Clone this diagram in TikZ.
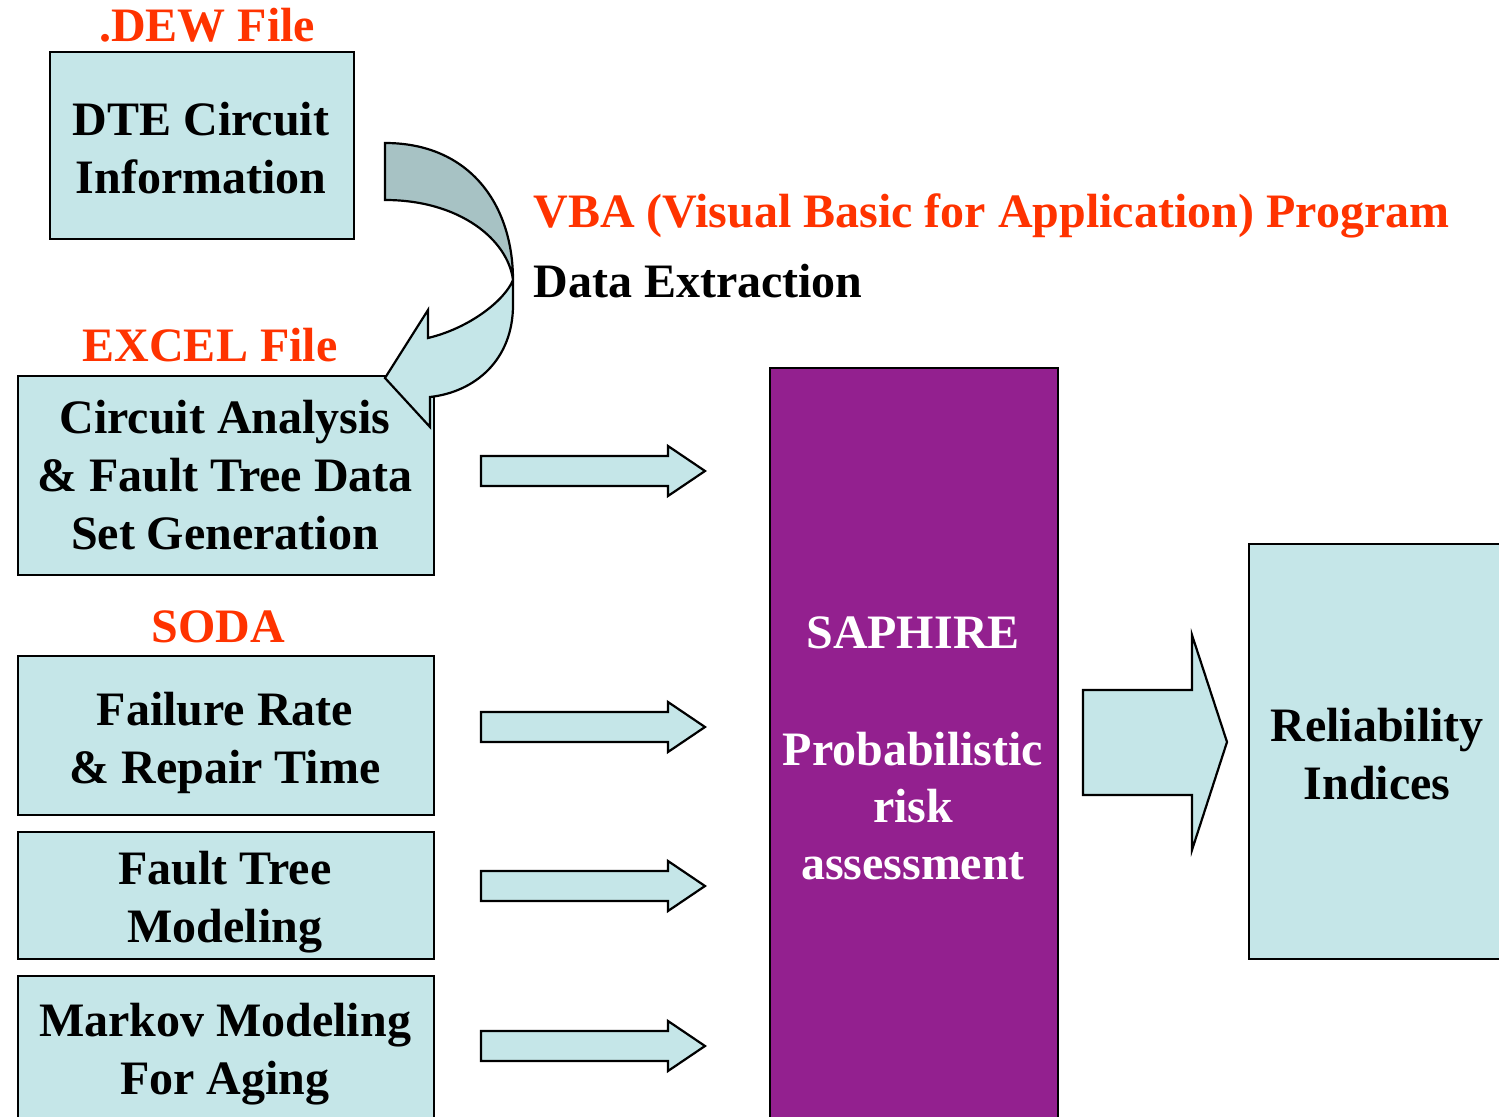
\documentclass[tikz,border=0pt]{standalone}
\usepackage{fontspec}
\setmainfont{Liberation Serif}
\usetikzlibrary{calc}
\definecolor{boxblue}{RGB}{197,230,232}
\definecolor{tailgray}{RGB}{167,194,196}
\definecolor{saphpurple}{RGB}{147,32,143}
\definecolor{filered}{RGB}{255,51,0}

\begin{document}
\begin{tikzpicture}[x=0.5pt,y=-0.5pt]
\tikzset{every node/.style={font=\fontsize{24}{29}\selectfont\bfseries}}
\tikzset{databox/.style={draw=black,line width=1.1pt,fill=boxblue,anchor=north west,inner sep=0pt}}
\tikzset{boxtext/.style={align=center,inner sep=0pt}}
\tikzset{filelabel/.style={text=filered,anchor=base}}
\tikzset{blockarrow/.style={draw=black,line width=1.1pt,fill=boxblue,line join=miter}}
\useasboundingbox (0,0) rectangle (1499,1117);
\clip (0,0) rectangle (1499,1117);
% input boxes
\node[databox,minimum width=152pt,minimum height=93.5pt] (dte) at (49,51) {};
\node[databox,minimum width=208pt,minimum height=99.5pt] (excel) at (17,375) {};
\node[databox,minimum width=208pt,minimum height=79.5pt] (rate) at (17,655) {};
\node[databox,minimum width=208pt,minimum height=63.5pt] (ftree) at (17,831) {};
\node[databox,minimum width=208pt,minimum height=84pt] (markov) at (17,975) {};
\node[boxtext] (dtetext) at (201,148.5) {DTE Circuit\\Information};
\node[boxtext] (exceltext) at (225,475.5) {Circuit Analysis\\\& Fault Tree Data\\Set Generation};
\node[boxtext] (ratetext) at (225,742.5) {Failure Rate\\\& Repair Time};
\node[boxtext] (ftreetext) at (225,902.5) {Fault Tree\\Modeling};
\node[boxtext] (markovtext) at (225,1054) {Markov Modeling\\For Aging};
% saphire and output
\node[databox,fill=saphpurple,minimum width=144pt,minimum height=396.5pt] (saphire) at (769,367) {};
\node[text=white,align=center,anchor=north,font=\fontsize{24}{28.5}\selectfont\bfseries] (saptext) at (913,610) {SAPHIRE\\[30pt]Probabilistic\\risk\\assessment};
\node[databox,minimum width=129pt,minimum height=207.5pt] (indices) at (1248,543) {};
\node[boxtext] (indicestext) at (1377,754.5) {Reliability\\Indices};
% labels
\node[filelabel] (dewlabel) at (207,42) {.DEW File};
\node[filelabel] (excellabel) at (210,362) {EXCEL File};
\node[filelabel] (sodalabel) at (218,642) {SODA};
\node[filelabel,anchor=base west,inner sep=0pt] (vbalabel) at (533,228) {VBA (Visual Basic for Application) Program};
\node[anchor=base west,inner sep=0pt] (extract) at (533,298) {Data Extraction};
% twisted arrow
\draw[line width=1.1pt,fill=tailgray] (385,143) .. controls (470,143) and (513,205) .. (513,280)
  .. controls (508,240) and (460,200) .. (385,200) -- cycle;
\draw[line width=1.1pt,fill=boxblue,line join=miter] (513,280) -- (513,305) .. controls (513,360) and (475,392) .. (430,397)
  -- (430,427) -- (385,378) -- (428,310) -- (428,338) .. controls (470,328) and (505,300) .. (513,280);
% block arrows
\foreach \y in {471,727,886,1046}
  \draw[blockarrow] (481,\y-15) -- (668,\y-15) -- (668,\y-25) -- (705,\y) -- (668,\y+25) -- (668,\y+15) -- (481,\y+15) -- cycle;
\draw[blockarrow] (1083,690) -- (1192,690) -- (1192,635) -- (1227,742) -- (1192,850) -- (1192,795) -- (1083,795) -- cycle;
\end{tikzpicture}
\end{document}
